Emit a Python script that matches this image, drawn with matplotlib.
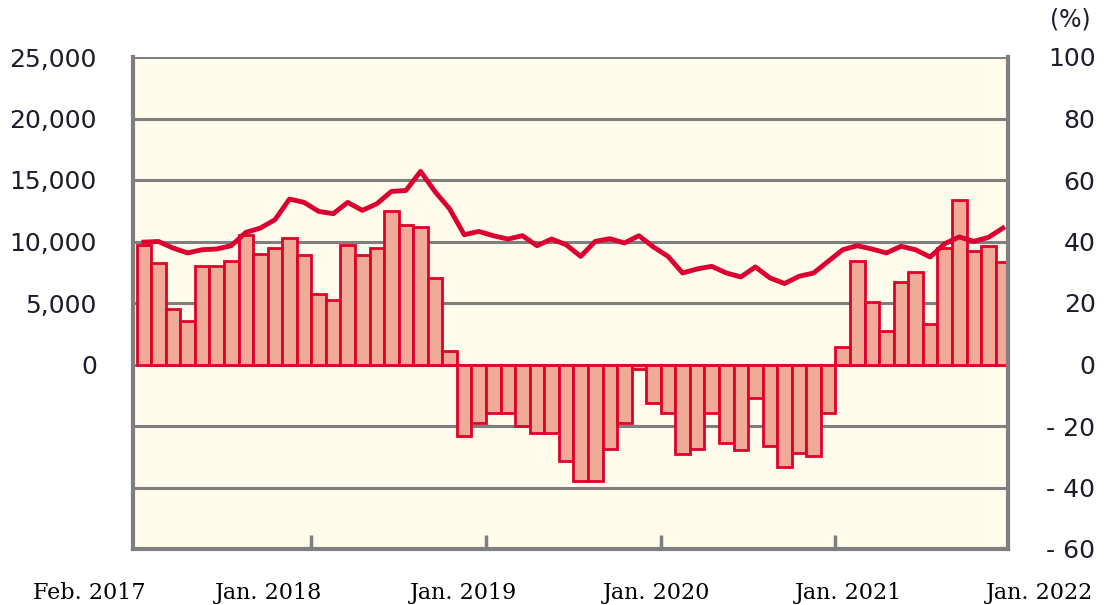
import numpy as np
import matplotlib
matplotlib.use('Agg')
import matplotlib.pyplot as plt
import matplotlib.transforms as mtransforms
from matplotlib.ticker import FixedLocator

# Monthly data, Feb. 2017 - Jan. 2022
# year-on-year change (%), bars on right axis
yoy_pct = [39, 33, 18, 14, 32, 32, 33.5, 42, 36, 38, 41, 35.7,
           23, 21, 39, 35.7, 38, 50, 45.5, 44.7, 28, 4.3, -23.3, -19,
           -15.7, -15.7, -20, -22.2, -22.2, -31.4, -37.9, -37.9, -27.6, -19, -1.4, -12.4,
           -15.7, -29, -27.6, -15.7, -25.6, -27.8, -10.8, -26.5, -33.2, -28.7, -29.8, -15.7,
           5.7, 33.5, 20.2, 10.8, 26.7, 30, 13.3, 37.9, 53.6, 36.8, 38.6, 33.2]

# level, line on left axis
level = [9950, 10000, 9470, 9070, 9330, 9390, 9660, 10740, 11090, 11770, 13450, 13180,
         12450, 12260, 13180, 12530, 13070, 14070, 14150, 15700, 14050, 12650, 10550, 10820,
         10470, 10200, 10470, 9660, 10200, 9740, 8790, 10010, 10230, 9880, 10470, 9550,
         8790, 7440, 7770, 7980, 7440, 7120, 7930, 7040, 6580, 7170, 7440, 8390,
         9330, 9660, 9390, 9070, 9610, 9330, 8740, 9820, 10370, 10010, 10330, 11090]

month_labels = ['Feb. 2017', 'Jan. 2018', 'Jan. 2019', 'Jan. 2020', 'Jan. 2021', 'Jan. 2022']
label_pos = [-3.75, 8.55, 21.95, 35.2, 48.4, 61.5]   # where the labels sit along x
year_breaks = [11.5, 23.5, 35.5, 47.5]

left_ticks = [0, 5000, 10000, 15000, 20000, 25000]
right_ticks = [-60, -40, -20, 0, 20, 40, 60, 80, 100]

grey = '#7f7f7f'
red = '#dc0030'
txt = '#1c1c2c'

x = np.arange(len(yoy_pct))
xlim = (-0.75, len(x) - 0.65)

fig = plt.figure(figsize=(11.08, 6.05), dpi=100)
ax = fig.add_axes([133/1108, 1 - 549/605, 875/1108, 492/605])
ax2 = ax.twinx()
ax.set_facecolor('#fffcec')

# bars (percent)
ax.bar(x, yoy_pct, width=1.0, color='#f0ab98', edgecolor='#e0002a', linewidth=2.0, zorder=2)
ax.set_ylim(-60, 100)
ax.yaxis.set_major_locator(FixedLocator(right_ticks))
ax.yaxis.grid(True, color=grey, linewidth=2.2, zorder=1)
ax.set_axisbelow(True)
ax.yaxis.tick_right()
ax.set_yticklabels([('- %d' % -v) if v < 0 else str(v) for v in right_ticks],
                   fontsize=18, color=txt, family='DejaVu Sans')
for lab in ax.get_yticklabels():
    lab.set_horizontalalignment('right')
ax.tick_params(axis='y', length=0, pad=63)

# x ticks: marks at year breaks only, labels as text below
ax.set_xticks(year_breaks)
ax.set_xticklabels([])
ax.tick_params(axis='x', which='major', direction='in', length=10, width=2.5, color=grey)
ax.set_xlim(*xlim)
trans = mtransforms.blended_transform_factory(ax.transData, fig.transFigure)
for pos, lab in zip(label_pos, month_labels):
    ax.text(pos, 1 - 593/605, lab, transform=trans, ha='center', va='center',
            fontsize=16, family='DejaVu Serif', color='black', clip_on=False)

for side in ['left', 'right', 'bottom']:
    ax.spines[side].set_color(grey)
    ax.spines[side].set_linewidth(3)
ax.spines['top'].set_visible(False)

# line (level) on twin axis, drawn on top of the bars
ax2.plot(x, level, color=red, linewidth=3.5, solid_joinstyle='round', zorder=3)
ax2.set_ylim(-15000, 25000)
ax2.yaxis.tick_left()
ax2.set_yticks(left_ticks)
ax2.set_yticklabels(['{:,}'.format(v) for v in left_ticks], fontsize=18, color=txt, family='DejaVu Sans')
ax2.tick_params(axis='y', length=0, pad=26)
for s in ax2.spines.values():
    s.set_visible(False)
ax2.set_xlim(*xlim)

fig.text(1070/1108, 1 - 20/605, '(%)', fontsize=17, color=txt, ha='center', va='center')

fig.savefig('out.png', dpi=100)
